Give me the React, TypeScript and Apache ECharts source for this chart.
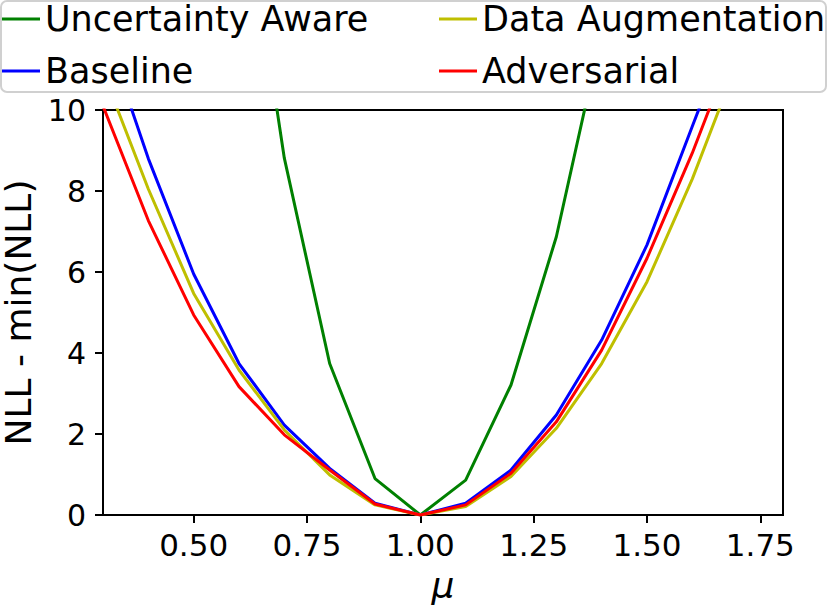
import React, { useEffect, useRef } from "react";
import * as echarts from "echarts";

const MU = [0.3, 0.4, 0.5, 0.6, 0.7, 0.8, 0.9, 1.0, 1.1, 1.2, 1.3, 1.4, 1.5, 1.6, 1.7];
const UNCERTAINTY_AWARE = [null, null, null, 16.2, 8.81, 3.74, 0.9, 0, 0.86, 3.21, 6.87, 11.9, null, null, null];
const BASELINE = [12.1, 8.8, 5.95, 3.74, 2.22, 1.15, 0.29, 0, 0.29, 1.11, 2.47, 4.32, 6.67, 9.6, 12.5];
const DATA_AUGMENTATION = [10.94, 8.05, 5.47, 3.58, 2.1, 0.99, 0.25, 0, 0.21, 0.95, 2.14, 3.74, 5.76, 8.3, 11.2];
const ADVERSARIAL = [10.1, 7.27, 4.94, 3.17, 1.98, 1.11, 0.27, 0, 0.25, 1.03, 2.3, 4.07, 6.34, 8.94, 11.84];
const X_TICKS = [0.5, 0.75, 1.0, 1.25, 1.5, 1.75];

const SERIES_DEF = [
  { name: "Uncertainty Aware", values: UNCERTAINTY_AWARE, color: "#008000" },
  { name: "Baseline", values: BASELINE, color: "#0000ff" },
  { name: "Data Augmentation", values: DATA_AUGMENTATION, color: "#bfbf00" },
  { name: "Adversarial", values: ADVERSARIAL, color: "#ff0000" },
];

const FONT = "DejaVu Sans";

export default function App() {
  const ref = useRef<HTMLDivElement>(null);
  useEffect(() => {
    if (!ref.current) return;
    const chart = echarts.init(ref.current, undefined, { renderer: "svg" });
    const legendBase = {
      orient: "vertical",
      top: 1,
      itemWidth: 38,
      itemHeight: 3,
      icon: "rect",
      itemGap: 16,
      padding: 0,
      selectedMode: false,
      textStyle: { fontSize: 35, lineHeight: 36, fontFamily: FONT, color: "#000" },
    };
    chart.setOption({
      animation: false,
      textStyle: { fontFamily: FONT },
      graphic: [
        {
          type: "rect",
          z: 0,
          shape: { x: 1, y: 1, width: 825, height: 91, r: 6 },
          style: { fill: "rgba(255,255,255,0.8)", stroke: "#d0d0d0", lineWidth: 2 },
        },
      ],
      legend: [
        { ...legendBase, left: 2, data: ["Uncertainty Aware", "Baseline"] },
        { ...legendBase, left: 439, data: ["Data Augmentation", "Adversarial"] },
      ],
      grid: {
        left: 103,
        right: 47,
        top: 110,
        bottom: 94,
        containLabel: false,
        outerBoundsMode: "none",
        show: true,
        borderColor: "#000",
        borderWidth: 2,
        backgroundColor: "transparent",
      },
      xAxis: {
        type: "value",
        min: 0.3,
        max: 1.8,
        name: "μ",
        nameLocation: "middle",
        nameGap: 52,
        nameTextStyle: { fontSize: 36, fontStyle: "italic", color: "#000", fontFamily: FONT },
        axisLine: { show: true, lineStyle: { color: "#000", width: 2 } },
        axisTick: { show: true, length: 8, lineStyle: { color: "#000", width: 2 }, customValues: X_TICKS },
        axisLabel: {
          customValues: X_TICKS,
          formatter: (v: number) => v.toFixed(2),
          fontSize: 31,
          color: "#000",
          margin: 14,
          fontFamily: FONT,
        },
        splitLine: { show: false },
      },
      yAxis: {
        type: "value",
        min: 0,
        max: 10,
        interval: 2,
        name: "NLL - min(NLL)",
        nameLocation: "middle",
        nameGap: 58,
        nameTextStyle: { fontSize: 36, lineHeight: 36, color: "#000", fontFamily: FONT },
        axisLine: { show: true, lineStyle: { color: "#000", width: 2 } },
        axisTick: { show: true, length: 8, lineStyle: { color: "#000", width: 2 } },
        axisLabel: { fontSize: 30, color: "#000", margin: 17, fontFamily: FONT },
        splitLine: { show: false },
      },
      series: SERIES_DEF.map((s) => ({
        name: s.name,
        type: "line",
        clip: true,
        showSymbol: false,
        symbol: "none",
        itemStyle: { color: s.color },
        lineStyle: { color: s.color, width: 3 },
        data: MU.map((m, i) => [m, s.values[i]]).filter((d) => d[1] !== null),
      })),
    });
    return () => chart.dispose();
  }, []);
  return <div ref={ref} style={{ position: "absolute", left: 0, top: 0, width: 830, height: 609 }} />;
}
